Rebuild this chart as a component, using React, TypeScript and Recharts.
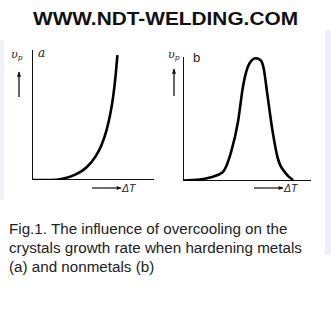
import React from "react";
import { LineChart, Line, XAxis, YAxis, ReferenceLine } from "recharts";

// Panel (a): metals — growth rate vs overcooling
const metalsDT = [0, 1.5, 2.5, 3.5, 4.5, 5.2, 5.7, 6.1, 6.4, 6.65, 6.85, 7.0];
const metalsRate = [0, 0, 0.1, 0.4, 1.0, 1.8, 2.7, 3.8, 5.0, 6.4, 8.0, 9.6];

// Panel (b): nonmetals
const nonmetalsDT = [0, 1.33, 2.2, 3.1, 3.75, 4.3, 4.7, 5.2, 5.7, 6.1, 6.3, 6.6, 7.0, 7.4, 8.0, 8.6];
const nonmetalsRate = [0.04, 0.12, 0.3, 0.7, 2.3, 4.8, 7.7, 9.5, 9.9, 9.7, 9.1, 6.9, 4.0, 1.85, 0.65, 0.08];

const titleText = "WWW.NDT-WELDING.COM";
const captionLines = [
  "Fig.1. The influence of overcooling on the",
  "crystals growth rate when hardening metals",
  "(a) and nonmetals (b)",
];
const panelLabels = ["a", "b"];

const dataA = metalsDT.map((x, i) => ({ x, y: metalsRate[i] }));
const dataB = nonmetalsDT.map((x, i) => ({ x, y: nonmetalsRate[i] }));

function Panel({ data, width, height }: { data: { x: number; y: number }[]; width: number; height: number }) {
  return (
    <LineChart width={width} height={height} data={data} margin={{ top: 0, right: 0, bottom: 0, left: 0 }}>
      <XAxis type="number" dataKey="x" domain={[0, 10]} hide />
      <YAxis type="number" domain={[0, 10]} hide />
      <ReferenceLine x={0} stroke="#111" strokeWidth={2} ifOverflow="extendDomain" />
      <ReferenceLine y={0} stroke="#111" strokeWidth={2} ifOverflow="extendDomain" />
      <Line
        type="monotone"
        dataKey="y"
        stroke="#000"
        strokeWidth={2.6}
        dot={false}
        isAnimationActive={false}
      />
    </LineChart>
  );
}

export default function App() {
  return (
    <div
      style={{
        position: "absolute",
        left: 0,
        top: 0,
        width: 331,
        height: 321,
        background: "#fff",
        overflow: "hidden",
      }}
    >
      <div style={{ position: "absolute", left: 325, top: 30, width: 6, height: 225, background: "#eef0f7" }} />
      <div style={{ position: "absolute", left: 0, top: 40, width: 4, height: 160, background: "#f0f2f8" }} />

      <div style={{ position: "absolute", left: 32, top: 50 }}>
        <Panel data={dataA} width={122} height={130} />
      </div>
      <div style={{ position: "absolute", left: 183, top: 57 }}>
        <Panel data={dataB} width={128} height={124} />
      </div>

      <svg width={331} height={321} style={{ position: "absolute", left: 0, top: 0 }}>
        <defs>
          <marker id="ah" viewBox="0 0 10 10" refX="9" refY="5" markerWidth="6" markerHeight="4" orient="auto">
            <path d="M0,1 L10,5 L0,9 Z" fill="#111" />
          </marker>
        </defs>
        <text
          x={165.5}
          y={25}
          textAnchor="middle"
          fontFamily="Liberation Sans, Arial, sans-serif"
          fontWeight="bold"
          fontSize={19}
          textLength={265}
          lengthAdjust="spacingAndGlyphs"
          fill="#111"
        >
          {titleText}
        </text>

        {/* panel a labels */}
        <text x={11} y={58} fontFamily="DejaVu Serif, serif" fontStyle="italic" fontSize={11} fill="#222">
          υ<tspan fontSize={7.5} dy={2}>p</tspan>
        </text>
        <line x1={19} y1={97} x2={19} y2={72} stroke="#111" strokeWidth={1.3} markerEnd="url(#ah)" />
        <text x={38} y={57} fontFamily="DejaVu Serif, serif" fontStyle="italic" fontSize={12} fill="#222">
          {panelLabels[0]}
        </text>
        <line x1={92} y1={188} x2={121} y2={188} stroke="#111" strokeWidth={1.2} markerEnd="url(#ah)" />
        <text x={122} y={192} fontFamily="Liberation Sans, Arial, sans-serif" fontStyle="italic" fontSize={10.5} fill="#222">
          ΔT
        </text>

        {/* panel b labels */}
        <text x={168} y={58} fontFamily="DejaVu Serif, serif" fontStyle="italic" fontSize={11} fill="#222">
          υ<tspan fontSize={7.5} dy={2}>p</tspan>
        </text>
        <line x1={174} y1={96} x2={174} y2={69} stroke="#111" strokeWidth={1.3} markerEnd="url(#ah)" />
        <text x={193} y={62} fontFamily="Liberation Sans, Arial, sans-serif" fontSize={13} fill="#222">
          {panelLabels[1]}
        </text>
        <line x1={254} y1={188} x2={283} y2={188} stroke="#111" strokeWidth={1.2} markerEnd="url(#ah)" />
        <text x={284} y={192} fontFamily="Liberation Sans, Arial, sans-serif" fontStyle="italic" fontSize={10.5} fill="#222">
          ΔT
        </text>

        {captionLines.map((line, i) => (
          <text
            key={i}
            x={9}
            y={234 + i * 19}
            fontFamily="Liberation Sans, Arial, sans-serif"
            fontSize={15.2}
            fill="#222"
          >
            {line}
          </text>
        ))}
      </svg>
    </div>
  );
}
